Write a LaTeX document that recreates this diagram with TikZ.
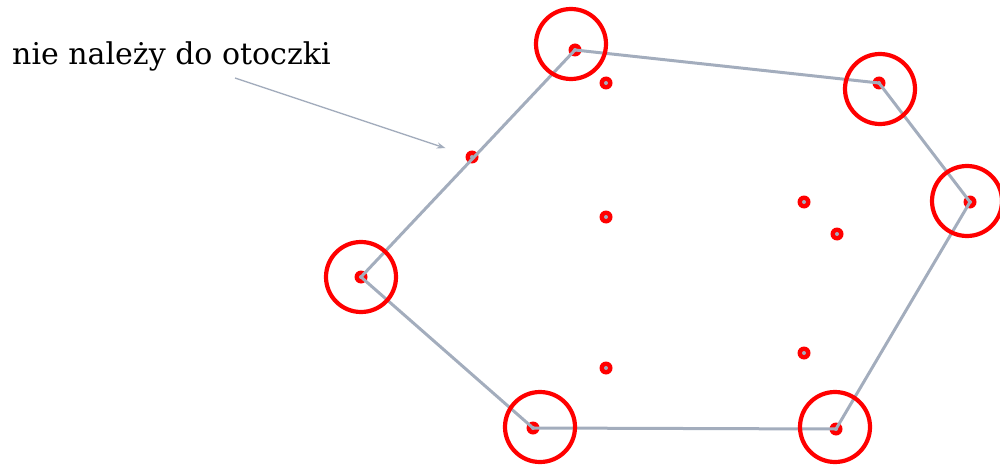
\documentclass[tikz,border=0pt]{standalone}
\usepackage{fontspec}
\setmainfont{DejaVu Serif}
\usetikzlibrary{arrows.meta}
\definecolor{hullgray}{HTML}{A3ADBD}
\definecolor{ptred}{HTML}{FF0000}
\tikzset{
  hull/.style={draw=hullgray, line width=3pt, line join=miter},
  bigring/.style={draw=ptred, line width=4.2pt},
  pointdot/.style={circle, fill=ptred, inner sep=0pt, minimum size=13pt},
  pointcore/.style={circle, fill=hullgray, inner sep=0pt, minimum size=4pt},
  pointer/.style={draw=hullgray, line width=1.4pt, -{Stealth[length=9pt,width=6pt]}},
  caption/.style={anchor=base west, inner sep=0pt, font=\fontsize{30}{34}\selectfont}
}
\begin{document}
\begin{tikzpicture}[x=1pt,y=-1pt]
\useasboundingbox (0,0) rectangle (1000,465);
% hull vertices
\coordinate (A) at (575,50);
\coordinate (B) at (879,83);
\coordinate (C) at (970,202);
\coordinate (D) at (836,429);
\coordinate (E) at (533,428);
\coordinate (F) at (361,277);
% non-hull points
\coordinate (P1) at (606,83);
\coordinate (P2) at (472,157);
\coordinate (P3) at (606,217);
\coordinate (P4) at (804,202);
\coordinate (P5) at (837,234);
\coordinate (P6) at (606,368);
\coordinate (P7) at (804,353);
% red dots
\foreach \p in {A,B,C,D,E,F,P1,P2,P3,P4,P5,P6,P7}
  \node[pointdot] (d\p) at (\p) {};
% hull
\draw[hull] (A) -- (B) -- (C) -- (D) -- (E) -- (F) -- cycle;
% cores
\foreach \p in {A,B,C,D,E,F,P1,P2,P3,P4,P5,P6,P7}
  \node[pointcore] at (\p) {};
% big rings
\coordinate (rA) at (571,44);
\coordinate (rB) at (880,89);
\coordinate (rC) at (967,201);
\coordinate (rD) at (835,427);
\coordinate (rE) at (540,427);
\coordinate (rF) at (361,277);
\foreach \p in {rA,rB,rC,rD,rE,rF}
  \draw[bigring] (\p) circle (35);
% caption and arrow
\node[caption] (cap) at (12,65) {nie należy do otoczki};
\coordinate (arrS) at (235,78);
\draw[pointer, shorten >=21pt] (arrS) -- (dP2);
\end{tikzpicture}
\end{document}
